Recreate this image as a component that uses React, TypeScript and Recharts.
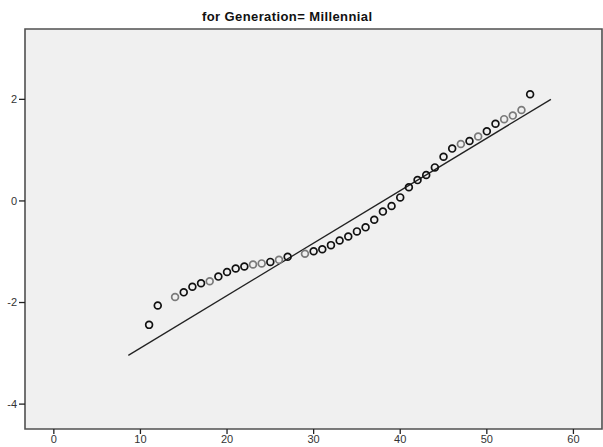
import { ScatterChart, Scatter, XAxis, YAxis, ReferenceArea } from "recharts";

// observed values and their expected normal scores
const observed = [
  11, 12, 14, 15, 16, 17, 18, 19, 20, 21, 22, 23, 24, 25, 26, 27, 29, 30, 31, 32, 33, 34,
  35, 36, 37, 38, 39, 40, 41, 42, 43, 44, 45, 46, 47, 48, 49, 50, 51, 52, 53, 54, 55,
];
const expectedNormal = [
  -2.44, -2.06, -1.89, -1.8, -1.69, -1.62, -1.58, -1.49, -1.4, -1.33, -1.29, -1.25, -1.23,
  -1.2, -1.16, -1.1, -1.04, -0.99, -0.95, -0.87, -0.78, -0.7, -0.6, -0.52, -0.37, -0.21,
  -0.1, 0.07, 0.27, 0.41, 0.51, 0.66, 0.87, 1.03, 1.12, 1.18, 1.27, 1.37, 1.52, 1.61, 1.68,
  1.79, 2.1,
];
// reference line ends
const lineX = [8.6, 57.4];
const lineY = [-3.04, 2.0];

const xTicks = [0, 10, 20, 30, 40, 50, 60];
const yTicks = [-4, -2, 0, 2];
const xDomain = [-3.33, 63.3];
const yDomain = [-4.49, 3.385];

// markers drawn in a lighter grey
const lighterAt = [14, 18, 23, 24, 26, 29, 47, 49, 52, 53, 54];

const points = observed.map((x, i) => ({ x, y: expectedNormal[i] }));
const fitLine = lineX.map((x, i) => ({ x, y: lineY[i] }));

const font = "'Liberation Sans', Arial, sans-serif";

const Ring = (props: any) => {
  const { cx, cy, payload } = props;
  const light = lighterAt.includes(payload.x);
  return (
    <circle
      cx={cx}
      cy={cy}
      r={3.4}
      fill="none"
      stroke={light ? "#7a7a7a" : "#111"}
      strokeWidth={1.7}
    />
  );
};

export default function App() {
  return (
    <div style={{ position: "absolute", left: 0, top: 0, width: 603, height: 447, background: "#fff" }}>
      <div
        style={{
          position: "absolute",
          left: 202,
          top: 9,
          fontFamily: font,
          fontWeight: "bold",
          fontSize: 13,
          letterSpacing: 0.4,
          color: "#111",
          whiteSpace: "nowrap",
        }}
      >
        for Generation= Millennial
      </div>
      <ScatterChart width={603} height={447} margin={{ top: 29, right: 1, left: 0, bottom: 0 }}>
        <XAxis
          type="number"
          dataKey="x"
          domain={xDomain}
          ticks={xTicks}
          height={18}
          axisLine={false}
          tickLine={{ stroke: "#222", strokeWidth: 1.3 }}
          tickSize={5}
          tickMargin={1}
          tick={{ fill: "#333", fontSize: 11, fontFamily: font }}
          allowDataOverflow
        />
        <YAxis
          type="number"
          dataKey="y"
          domain={yDomain}
          ticks={yTicks}
          width={25}
          axisLine={false}
          tickLine={{ stroke: "#222", strokeWidth: 1.3 }}
          tickSize={6}
          tickMargin={2}
          tick={{ fill: "#333", fontSize: 11, fontFamily: font }}
          allowDataOverflow
        />
        <ReferenceArea
          x1={xDomain[0]}
          x2={xDomain[1]}
          y1={yDomain[0]}
          y2={yDomain[1]}
          fill="#f0f0f0"
          fillOpacity={1}
          stroke="#505050"
          strokeWidth={1.6}
          ifOverflow="visible"
        />
        <Scatter
          data={fitLine}
          line={{ stroke: "#222", strokeWidth: 1.3 }}
          shape={() => <g />}
          isAnimationActive={false}
        />
        <Scatter data={points} shape={<Ring />} isAnimationActive={false} />
      </ScatterChart>
    </div>
  );
}
